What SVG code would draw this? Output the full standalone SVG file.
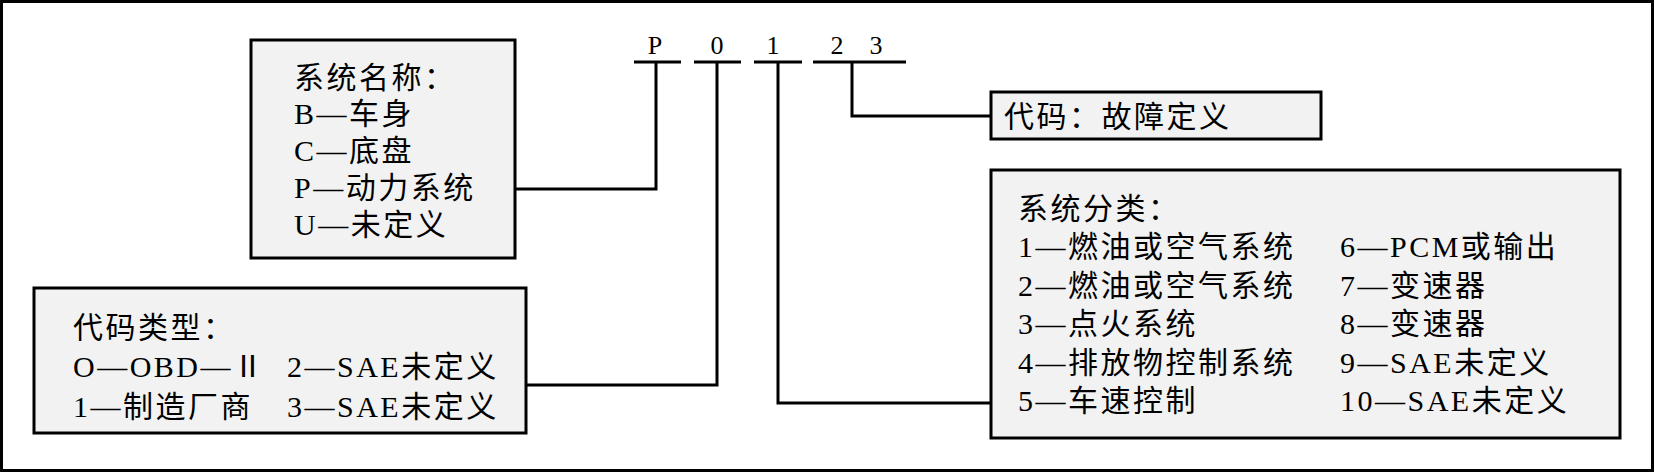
<svg xmlns="http://www.w3.org/2000/svg" width="1655" height="473" viewBox="0 0 1655 473">
<style>
.box{fill:#f2f2f2;stroke:#000;stroke-width:3}
.t{font-family:'Liberation Serif','Noto Sans CJK SC',serif;font-size:30px;letter-spacing:2.5px;fill:#000}
.d{font-family:'Liberation Serif',serif;font-size:26px;fill:#000;text-anchor:middle}
.c{fill:none;stroke:#000;stroke-width:3}
</style>
<rect x="1.5" y="1.5" width="1651" height="469" fill="#fff" stroke="#000" stroke-width="3"/>
<g id="code">
<text class="d" x="655" y="54">P</text>
<text class="d" x="717" y="54">0</text>
<text class="d" x="773" y="54">1</text>
<text class="d" x="837" y="54">2</text>
<text class="d" x="876" y="54">3</text>
</g>
<g id="connectors" class="c">
<path d="M634 62H681M694 62H741M754 62H802M813 62H906"/>
<path d="M656 62V189H515"/>
<path d="M717 62V385H526"/>
<path d="M778 62V403H991"/>
<path d="M852 62V116H991"/>
</g>
<g id="system-name">
<rect class="box" x="251" y="40" width="264" height="218"/>
<text class="t" x="294" y="88">系统名称：</text>
<text class="t" x="294" y="124">B—车身</text>
<text class="t" x="294" y="161">C—底盘</text>
<text class="t" x="294" y="198">P—动力系统</text>
<text class="t" x="294" y="235">U—未定义</text>
</g>
<g id="code-type">
<rect class="box" x="34" y="288" width="492" height="145"/>
<text class="t" x="73" y="338">代码类型：</text>
<text class="t" x="73" y="377">O—OBD—Ⅱ</text>
<text class="t" x="287" y="377">2—SAE未定义</text>
<text class="t" x="73" y="417">1—制造厂商</text>
<text class="t" x="287" y="417">3—SAE未定义</text>
</g>
<g id="fault-def">
<rect class="box" x="991" y="92" width="330" height="47"/>
<text class="t" x="1004" y="127">代码：故障定义</text>
</g>
<g id="system-class">
<rect class="box" x="991" y="170" width="629" height="268"/>
<text class="t" x="1018" y="219">系统分类：</text>
<text class="t" x="1018" y="257">1—燃油或空气系统</text>
<text class="t" x="1018" y="296">2—燃油或空气系统</text>
<text class="t" x="1018" y="334">3—点火系统</text>
<text class="t" x="1018" y="373">4—排放物控制系统</text>
<text class="t" x="1018" y="411">5—车速控制</text>
<text class="t" x="1340" y="257">6—PCM或输出</text>
<text class="t" x="1340" y="296">7—变速器</text>
<text class="t" x="1340" y="334">8—变速器</text>
<text class="t" x="1340" y="373">9—SAE未定义</text>
<text class="t" x="1340" y="411">10—SAE未定义</text>
</g>
</svg>
